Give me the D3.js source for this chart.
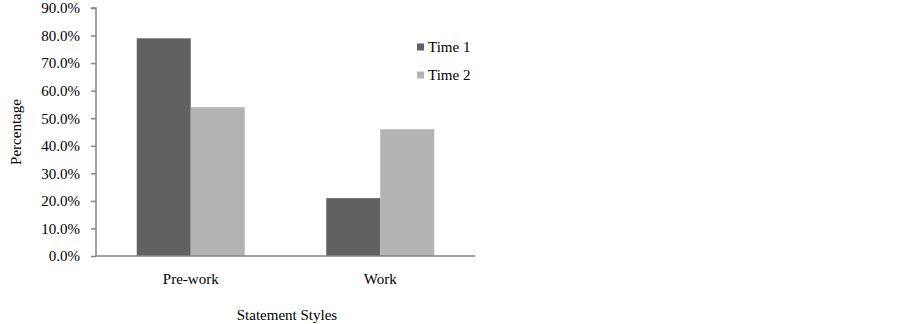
<!DOCTYPE html>
<html><head><meta charset="utf-8">
<script src="https://cdn.jsdelivr.net/npm/d3@7"></script>
<style>body{margin:0;background:#fff}text{font-family:"Liberation Serif","Times New Roman",serif;fill:#000}</style>
</head><body><svg id="c" width="902" height="324"></svg>
<script>
const categories = ["Pre-work", "Work"];
const seriesNames = ["Time 1", "Time 2"];
const time1 = [79, 21];
const time2 = [54, 46];
const yTicks = [0,10,20,30,40,50,60,70,80,90];
const colors = ["#616161", "#b3b3b3"];

const svg = d3.select("#c");
const m = {left:96, right:475, top:8, bottom:256};
const x = d3.scaleBand().domain(categories).range([m.left, m.right]).paddingInner(0.43).paddingOuter(0.215);
const xs = d3.scaleBand().domain(seriesNames).range([0, x.bandwidth()]);
const y = d3.scaleLinear().domain([0, 90]).range([m.bottom, m.top]);
const axisColor = "#868686";

const data = categories.map((c,i)=>({c, vals:[time1[i], time2[i]]}));
const g = svg.append("g");
data.forEach(d=>{
  d.vals.forEach((v,j)=>{
    g.append("rect").attr("x", x(d.c)+xs(seriesNames[j])).attr("width", xs.bandwidth())
     .attr("y", y(v)).attr("height", y(0)-y(v)).attr("fill", colors[j]);
  });
});

const ya = svg.append("g").attr("transform",`translate(${m.left},0)`)
  .call(d3.axisLeft(y).tickValues(yTicks).tickSize(5).tickPadding(11).tickFormat(d=>d.toFixed(1)+"%"));
ya.select(".domain").attr("stroke", axisColor).attr("stroke-width",1.5).attr("d",`M-5,${m.top}H0V${m.bottom}`);
ya.selectAll(".tick line").attr("stroke", axisColor).attr("stroke-width",1.5);
ya.selectAll("text").attr("font-size","15px").attr("font-family",'"Liberation Serif",serif').attr("fill","#000");

const xa = svg.append("g").attr("transform",`translate(0,${m.bottom})`)
  .call(d3.axisBottom(x).tickSize(0).tickPadding(17));
xa.select(".domain").attr("stroke", axisColor).attr("stroke-width",1.5).attr("d",`M${m.left},0H${m.right}`);
xa.selectAll("text").attr("font-size","15px").attr("font-family",'"Liberation Serif",serif').attr("fill","#000");

svg.append("text").attr("transform","translate(21,132) rotate(-90)").attr("text-anchor","middle")
  .attr("font-size","15px").text("Percentage");
svg.append("text").attr("x",287).attr("y",320).attr("text-anchor","middle")
  .attr("font-size","15px").text("Statement Styles");

const lg = svg.append("g");
seriesNames.forEach((s,i)=>{
  const yy = 47 + i*28;
  lg.append("rect").attr("x",417).attr("y",yy-3.5).attr("width",7).attr("height",7).attr("fill",colors[i]);
  lg.append("text").attr("x",428).attr("y",yy+5).attr("font-size","15px").text(s);
});
</script></body></html>
